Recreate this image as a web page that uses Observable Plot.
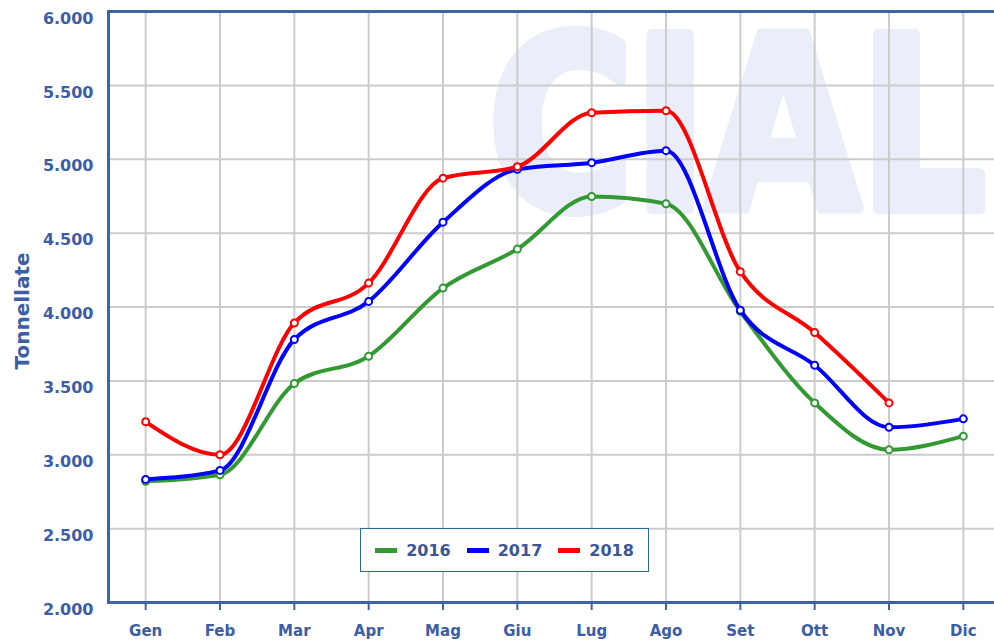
<!DOCTYPE html>
<html>
<head>
<meta charset="utf-8">
<script src="https://cdn.jsdelivr.net/npm/d3@7"></script>
<script src="https://cdn.jsdelivr.net/npm/@observablehq/plot@0.6"></script>
<style>
  body { margin: 0; background: #fff; font-family: "DejaVu Sans", sans-serif; }
  #wrap { position: relative; width: 994px; height: 640px; overflow: hidden; }
  #legend {
    position: absolute; left: 360px; top: 528px; width: 287px; height: 42px;
    border: 1.5px solid #2b6a9c; background: #fff;
    display: flex; align-items: center; justify-content: center; gap: 0;
    font: bold 16px "DejaVu Sans", sans-serif; color: #3b5795;
  }
  .item { display: flex; align-items: center; margin: 0 8px; }
  .sw { width: 22px; height: 5px; margin-right: 9px; }
</style>
</head>
<body>
<div id="wrap">
  <div id="chart"></div>
  <div id="legend"></div>
</div>
<script>
const months = ["Gen","Feb","Mar","Apr","Mag","Giu","Lug","Ago","Set","Ott","Nov","Dic"];
const years = ["2016","2017","2018"];
const colors = ["#339933","#0000ff","#ff0000"];
const v2016 = [2820, 2865, 3482, 3667, 4128, 4392, 4748, 4699, 3970, 3351, 3034, 3126];
const v2017 = [2833, 2894, 3780, 4038, 4574, 4932, 4977, 5058, 3978, 3606, 3186, 3243];
const v2018 = [3223, 3000, 3892, 4162, 4872, 4950, 5315, 5328, 4239, 3827, 3351, null];
const yTicks = [2000, 2500, 3000, 3500, 4000, 4500, 5000, 5500, 6000];
const yTitle = "Tonnellate";
const watermark = "CIAL";

const seriesValues = [v2016, v2017, v2018];
const series = years.map((yr, i) =>
  months.map((m, j) => ({month: m, value: seriesValues[i][j], year: yr}))
        .filter(d => d.value != null)
);

const textColor = "#3b5ea6";
const frameColor = "#3f63a8";
const fmt = d => d3.format(",")(d).replace(/,/g, ".");

const marks = [
  Plot.text([watermark], {
    frameAnchor: "top-left", dx: 380, dy: 28, textAnchor: "start", lineAnchor: "top",
    fontSize: 238, fontWeight: "bold", fontFamily: "DejaVu Sans",
    fill: "#e9eef8", stroke: "#e9eef8", strokeWidth: 12, strokeLinejoin: "round"
  }),
  Plot.gridY(yTicks, {stroke: "#cccccc", strokeOpacity: 1, strokeWidth: 2}),
  Plot.gridX(months, {stroke: "#cccccc", strokeOpacity: 1, strokeWidth: 2}),
  Plot.ruleY([yTicks[0], yTicks[yTicks.length - 1]], {stroke: frameColor, strokeWidth: 3}),
  Plot.frame({anchor: "left", stroke: frameColor, strokeWidth: 3}),
  Plot.axisY(yTicks, {
    tickSize: 0, tickPadding: 15, tickFormat: fmt, label: null, dy: 7,
    fontSize: 16, fontWeight: "bold", fontFamily: "DejaVu Sans", fill: textColor
  }),
  Plot.axisX(months, {
    tickSize: 8, tickPadding: 15, label: null,
    fontSize: 15, fontWeight: "bold", fontFamily: "DejaVu Sans", fill: textColor, stroke: frameColor, strokeWidth: 2
  }),
  Plot.text([yTitle], {
    frameAnchor: "left", rotate: -90, dx: -86, dy: 4, textAnchor: "middle", lineAnchor: "middle",
    fontSize: 20, fontWeight: "bold", fontFamily: "DejaVu Sans", fill: textColor
  })
];
series.forEach((s, i) => {
  marks.push(Plot.line(s, {x: "month", y: "value", stroke: colors[i], strokeWidth: 4, curve: "monotone-x"}));
  marks.push(Plot.dot(s, {x: "month", y: "value", r: 3.5, fill: "white", stroke: colors[i], strokeWidth: 2}));
});

const chart = Plot.plot({
  width: 994,
  height: 640,
  marginLeft: 108,
  marginRight: -6,
  marginTop: 11,
  marginBottom: 38,
  style: {background: "white", fontFamily: "DejaVu Sans"},
  x: {type: "point", domain: months, padding: 0.5, round: false, axis: null},
  y: {domain: [2000, 6000], axis: null},
  marks
});
document.getElementById("chart").appendChild(chart);

// squeeze the watermark horizontally so it fits the right part of the frame
d3.select(chart).selectAll("text")
  .filter(function() { return this.textContent === watermark; })
  .each(function() {
    const w = this.getComputedTextLength();
    const s = 497 / w;
    const ax = +(this.getAttribute("x") || 0);
    const tr = this.getAttribute("transform") || "";
    this.setAttribute("transform", `${tr} translate(${ax},0) scale(${s},1) translate(${-ax},0)`);
  });

const legend = document.getElementById("legend");
years.forEach((yr, i) => {
  const it = document.createElement("div");
  it.className = "item";
  const sw = document.createElement("span");
  sw.className = "sw";
  sw.style.background = colors[i];
  const tx = document.createElement("span");
  tx.textContent = yr;
  it.appendChild(sw); it.appendChild(tx);
  legend.appendChild(it);
});
</script>
</body>
</html>
